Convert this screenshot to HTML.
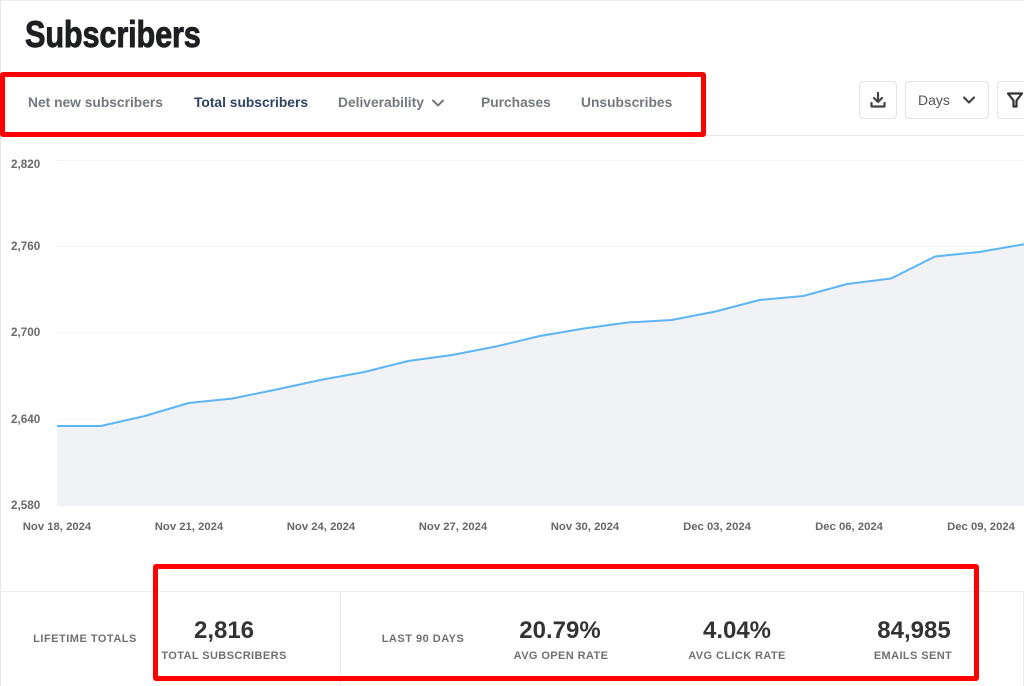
<!DOCTYPE html>
<html>
<head>
<meta charset="utf-8">
<style>
  html,body{margin:0;padding:0;background:#fff;}
  body{width:1024px;height:686px;position:relative;overflow:hidden;font-family:"Liberation Sans",Arial,sans-serif;}
  .abs{position:absolute;}
  .title{left:25px;top:16px;font-size:37px;line-height:37px;font-weight:bold;color:#1e1f22;transform:scaleX(0.83);transform-origin:0 0;white-space:nowrap;letter-spacing:-0.2px;-webkit-text-stroke:0.9px #1e1f22;}
  .tab{top:93px;height:20px;line-height:20px;font-size:13.8px;font-weight:bold;color:#73777e;white-space:nowrap;}
  .tab.active{color:#2e4261;}
  .btn{border:1px solid #e4e4e4;border-radius:4px;box-sizing:border-box;background:#fff;}
  .ylab{left:11px;font-size:11.7px;font-weight:bold;color:#6a6a6a;height:14px;line-height:14px;}
  .xlab{top:520px;width:100px;margin-left:-50px;text-align:center;font-size:11.3px;font-weight:bold;color:#676767;height:14px;line-height:14px;white-space:nowrap;}
  .sec{font-size:11px;font-weight:bold;color:#707070;letter-spacing:0.5px;white-space:nowrap;width:200px;margin-left:-100px;text-align:center;height:14px;line-height:14px;}
  .val{font-size:24px;font-weight:bold;color:#333;width:200px;margin-left:-100px;text-align:center;height:26px;line-height:26px;top:618px;}
  .lab{font-size:11px;font-weight:bold;color:#707070;letter-spacing:0.4px;width:200px;margin-left:-100px;text-align:center;height:14px;line-height:14px;top:649px;white-space:nowrap;}
  .red{border:5px solid #ff0000;border-radius:3px;box-sizing:border-box;}
</style>
</head>
<body>
  <div class="abs" style="left:0;top:0;width:1024px;height:1px;background:#ececec;"></div>
  <div class="abs" style="left:0;top:0;width:1px;height:686px;background:#e6e6e6;"></div>

  <div class="abs title">Subscribers</div>

  <div class="abs tab" style="left:28px;">Net new subscribers</div>
  <div class="abs tab active" style="left:194px;">Total subscribers</div>
  <div class="abs tab" style="left:338px;">Deliverability</div>
  <svg class="abs" style="left:430px;top:97px;" width="16" height="12" viewBox="0 0 16 12">
    <polyline points="3,3.5 8,8.5 13,3.5" fill="none" stroke="#73777e" stroke-width="2" stroke-linecap="round" stroke-linejoin="round"/>
  </svg>
  <div class="abs tab" style="left:481px;">Purchases</div>
  <div class="abs tab" style="left:581px;">Unsubscribes</div>

  <div class="abs" style="left:0;top:135px;width:1024px;height:1px;background:#e6e6e6;"></div>

  <div class="abs btn" style="left:859px;top:81px;width:38px;height:38px;"></div>
  <svg class="abs" style="left:868px;top:90px;" width="20" height="20" viewBox="0 0 20 20">
    <path d="M10 3 V11.5" stroke="#444" stroke-width="2.2" stroke-linecap="round" fill="none"/>
    <polyline points="6,8 10,12 14,8" fill="none" stroke="#444" stroke-width="2.2" stroke-linecap="round" stroke-linejoin="round"/>
    <path d="M3.5 13 V16.5 H16.5 V13" fill="none" stroke="#444" stroke-width="2.2" stroke-linecap="round" stroke-linejoin="round"/>
  </svg>
  <div class="abs btn" style="left:905px;top:81px;width:84px;height:38px;"></div>
  <div class="abs" style="left:918px;top:91px;height:18px;line-height:18px;font-size:14px;color:#555;">Days</div>
  <svg class="abs" style="left:961px;top:94px;" width="16" height="12" viewBox="0 0 16 12">
    <polyline points="3,3.5 8,8.5 13,3.5" fill="none" stroke="#444" stroke-width="2.2" stroke-linecap="round" stroke-linejoin="round"/>
  </svg>
  <div class="abs btn" style="left:997px;top:81px;width:40px;height:38px;"></div>
  <svg class="abs" style="left:1006px;top:91px;" width="18" height="18" viewBox="0 0 18 18">
    <path d="M2 2.5 H16 L10.5 9.5 V15.5 H7.5 V9.5 Z" fill="none" stroke="#333" stroke-width="2.2" stroke-linejoin="round"/>
  </svg>

  <svg class="abs" style="left:0;top:0;" width="1024" height="686" viewBox="0 0 1024 686">
    <g stroke="#f4f4f4" stroke-width="1">
      <line x1="57" y1="160.5" x2="1024" y2="160.5"/>
      <line x1="57" y1="246.5" x2="1024" y2="246.5"/>
      <line x1="57" y1="333" x2="1024" y2="333"/>
      <line x1="57" y1="419.5" x2="1024" y2="419.5"/>
    </g>
    <polygon fill="#f1f2f6" points="57,506 57,426 100.9,426 144.8,416 188.7,403 232.6,398.5 276.5,389.5 320.4,380 364.3,372 408.2,361 452.1,355 496,346.5 539.9,336 583.8,328.5 627.7,322.5 671.6,320 715.5,311.5 759.4,300 803.3,296 847.2,284 891.1,278.5 935,256.5 978.9,252 1022.8,244.5 1066.7,237 1066.7,506"/>
    <polyline fill="none" stroke="#5cb5f7" stroke-width="2" stroke-linejoin="round" points="57,426 100.9,426 144.8,416 188.7,403 232.6,398.5 276.5,389.5 320.4,380 364.3,372 408.2,361 452.1,355 496,346.5 539.9,336 583.8,328.5 627.7,322.5 671.6,320 715.5,311.5 759.4,300 803.3,296 847.2,284 891.1,278.5 935,256.5 978.9,252 1022.8,244.5 1066.7,237"/>
  </svg>

  <div class="abs ylab" style="top:158px;">2,820</div>
  <div class="abs ylab" style="top:240px;">2,760</div>
  <div class="abs ylab" style="top:326px;">2,700</div>
  <div class="abs ylab" style="top:413px;">2,640</div>
  <div class="abs ylab" style="top:499px;">2,580</div>

  <div class="abs xlab" style="left:57px;">Nov 18, 2024</div>
  <div class="abs xlab" style="left:189px;">Nov 21, 2024</div>
  <div class="abs xlab" style="left:321px;">Nov 24, 2024</div>
  <div class="abs xlab" style="left:453px;">Nov 27, 2024</div>
  <div class="abs xlab" style="left:585px;">Nov 30, 2024</div>
  <div class="abs xlab" style="left:717px;">Dec 03, 2024</div>
  <div class="abs xlab" style="left:849px;">Dec 06, 2024</div>
  <div class="abs xlab" style="left:981px;">Dec 09, 2024</div>

  <div class="abs" style="left:0;top:591px;width:1024px;height:1px;background:#ececec;"></div>
  <div class="abs" style="left:340px;top:591px;width:1px;height:95px;background:#ececec;"></div>
  <div class="abs" style="left:1023px;top:591px;width:1px;height:95px;background:#ececec;"></div>

  <div class="abs sec" style="left:85px;top:632px;">LIFETIME TOTALS</div>
  <div class="abs sec" style="left:423px;top:632px;">LAST 90 DAYS</div>

  <div class="abs val" style="left:224px;">2,816</div>
  <div class="abs lab" style="left:224px;">TOTAL SUBSCRIBERS</div>

  <div class="abs val" style="left:560px;">20.79%</div>
  <div class="abs lab" style="left:561px;">AVG OPEN RATE</div>

  <div class="abs val" style="left:737px;">4.04%</div>
  <div class="abs lab" style="left:737px;">AVG CLICK RATE</div>

  <div class="abs val" style="left:914px;">84,985</div>
  <div class="abs lab" style="left:913px;">EMAILS SENT</div>

  <div class="abs red" style="left:0;top:72px;width:706px;height:65px;"></div>
  <div class="abs red" style="left:153px;top:564px;width:826px;height:117px;"></div>
</body>
</html>
